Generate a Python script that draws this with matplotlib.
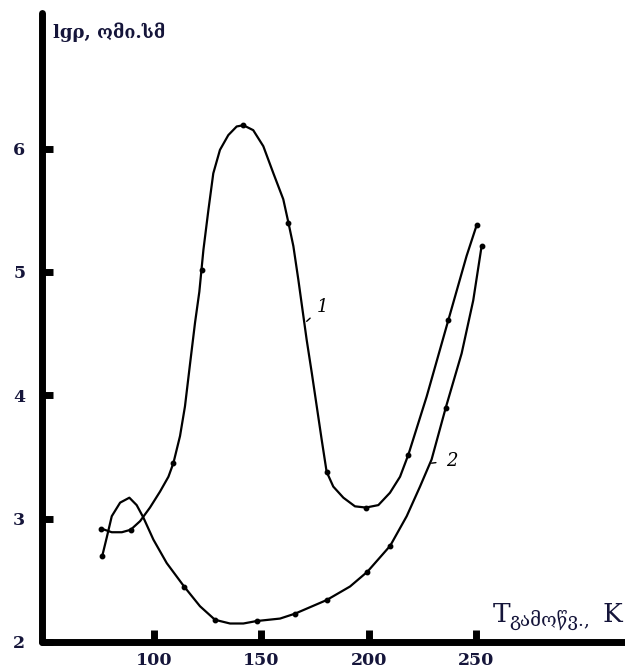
import matplotlib
matplotlib.use('Agg')
import matplotlib.pyplot as plt

# ---- data ----
curve1_T = [75.3, 80.3, 85, 89.1, 93.5, 98.1, 102.8, 106.7, 109, 112.1,
            114.4, 116.8, 119.1, 121.1, 123.0, 125.3, 127.6, 130.7, 134.6, 138.5,
            141.6, 146.2, 150.9, 155.6, 160.2, 162.6, 164.9, 167.2, 171.1, 173.5,
            175.8, 178.1, 180.4, 183.5, 188.2, 193.6, 198.7, 204.5, 209.9, 214.6,
            218.5, 227, 237.1, 245.6, 250.3]
curve1_lg = [2.92, 2.89, 2.89, 2.91, 2.98, 3.09, 3.22, 3.34, 3.45, 3.67,
             3.91, 4.26, 4.59, 4.84, 5.18, 5.50, 5.80, 5.99, 6.11, 6.18,
             6.19, 6.15, 6.02, 5.80, 5.59, 5.40, 5.21, 4.94, 4.45, 4.18,
             3.91, 3.64, 3.38, 3.26, 3.17, 3.10, 3.09, 3.11, 3.21, 3.34,
             3.52, 3.99, 4.61, 5.13, 5.38]
curve1_mark_T = [75.3, 89.1, 109, 122.2, 141.6, 162.6, 180.4, 198.7, 218.5, 237.1, 250.3]
curve1_mark_lg = [2.92, 2.91, 3.45, 5.02, 6.19, 5.40, 3.38, 3.09, 3.52, 4.61, 5.38]

curve2_T = [75.9, 78, 80.3, 84.2, 88.5, 91.9, 95, 99.7, 105.9, 114,
            121.4, 128.4, 135.4, 141.6, 147.8, 158.7, 165.7, 180.4, 191.3, 199.4,
            210, 217.7, 223.9, 229.3, 235.9, 243.3, 248.7, 252.6]
curve2_lg = [2.70, 2.85, 3.02, 3.13, 3.17, 3.11, 3.01, 2.83, 2.64, 2.45,
             2.29, 2.18, 2.15, 2.15, 2.17, 2.19, 2.23, 2.34, 2.45, 2.57,
             2.78, 3.02, 3.26, 3.48, 3.90, 4.34, 4.77, 5.21]
curve2_mark_T = [75.9, 114, 128.4, 147.8, 165.7, 180.4, 199.4, 210, 235.9, 252.6]
curve2_mark_lg = [2.70, 2.45, 2.18, 2.17, 2.23, 2.34, 2.57, 2.78, 3.90, 5.21]

x_ticks = [100, 150, 200, 250]
y_ticks = [2, 3, 4, 5, 6]
curve_labels = ['1', '2']

plt.rcParams['font.family'] = ['DejaVu Serif', 'DejaVu Sans']

W, H = 625, 670
fig = plt.figure(figsize=(W / 100, H / 100), dpi=100)
ax = fig.add_axes([42 / W, 28 / H, 1 - 42 / W, (642 - 13) / H])
ax.set_xlim(47.8, 319.4)
ax.set_ylim(2.0, 7.10)

for s in ['top', 'right']:
    ax.spines[s].set_visible(False)
for s in ['left', 'bottom']:
    ax.spines[s].set_linewidth(5)
    ax.spines[s].set_capstyle('round')

ax.set_xticks(x_ticks)
ax.set_yticks(y_ticks)
ax.tick_params(axis='x', direction='in', length=9, width=5, pad=7,
               labelsize=12.5, labelcolor='#15153a')
ax.tick_params(axis='y', direction='in', length=8, width=5, pad=12,
               labelsize=12.5, labelcolor='#15153a')
for lbl in ax.get_xticklabels() + ax.get_yticklabels():
    lbl.set_fontweight('bold')

line_kw = dict(color='black', lw=1.6, solid_capstyle='round', solid_joinstyle='round')
ax.plot(curve1_T, curve1_lg, **line_kw)
ax.plot(curve2_T, curve2_lg, **line_kw)
ax.plot(curve1_mark_T, curve1_mark_lg, 'o', color='black', ms=3.2)
ax.plot(curve2_mark_T, curve2_mark_lg, 'o', color='black', ms=3.2)

ax.annotate(curve_labels[0], xy=(171.1, 4.60), xytext=(178.6, 4.72),
            fontsize=13, style='italic', ha='center', va='center',
            arrowprops=dict(arrowstyle='-', lw=1.0, shrinkA=4, shrinkB=0))
ax.annotate(curve_labels[1], xy=(229.3, 3.45), xytext=(238.5, 3.47),
            fontsize=13, style='italic', ha='center', va='center',
            arrowprops=dict(arrowstyle='-', lw=1.0, shrinkA=5, shrinkB=0))

# axis titles
fig.text(53 / W, 1 - 38 / H, 'lgρ, ომი.სმ', ha='left', va='baseline',
         fontsize=13, fontweight='bold', color='#15153a')
fig.text(493 / W, 1 - 622 / H, 'T', ha='left', va='baseline', fontsize=19, color='#15153a')
fig.text(509 / W, 1 - 626 / H, 'გამოწვ.,', ha='left', va='baseline', fontsize=13.5,
         color='#15153a')
fig.text(603 / W, 1 - 622 / H, 'K', ha='left', va='baseline', fontsize=19, color='#15153a')

fig.savefig('out.png', dpi=100, facecolor='white')
